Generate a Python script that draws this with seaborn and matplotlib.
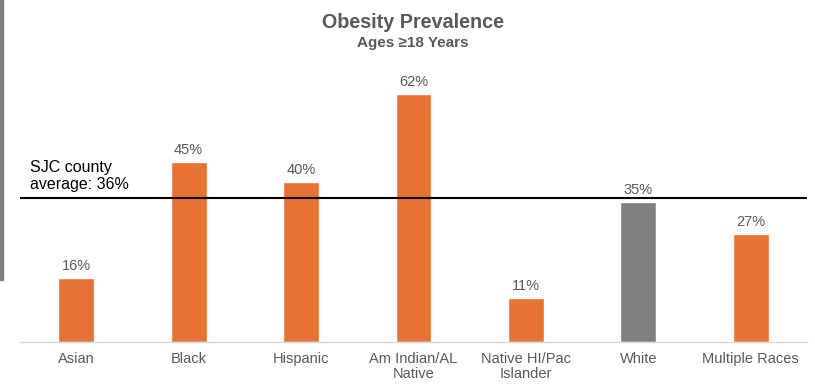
import matplotlib
matplotlib.use("Agg")
import matplotlib.pyplot as plt
from matplotlib.patches import Rectangle
import seaborn as sns
import pandas as pd

categories = ["Asian", "Black", "Hispanic", "Am Indian/AL\nNative",
              "Native HI/Pac\nIslander", "White", "Multiple Races"]
prevalence = [16, 45, 40, 62, 11, 35, 27]
county_average = 36

ORANGE = "#E87234"
GRAY = "#7F7F7F"
TEXT = "#595959"

sns.set_theme(style="white")
plt.rcParams["font.family"] = ["Liberation Sans", "DejaVu Sans"]

df = pd.DataFrame({"group": categories, "pct": prevalence})
palette = {c: (GRAY if c == "White" else ORANGE) for c in categories}

fig = plt.figure(figsize=(8.15, 3.85), dpi=100)
ax = fig.add_axes([20 / 815, 43 / 385, 787 / 815, 280 / 385])

sns.barplot(data=df, x="group", y="pct", hue="group", palette=palette,
            width=0.32, saturation=1, legend=False, ax=ax)

for i, v in enumerate(prevalence):
    ax.text(i, v + 1.2, f"{v}%", ha="center", va="bottom", fontsize=10.5, color=TEXT)

ax.axhline(county_average, color="black", lw=1.5, zorder=3)
ax.text(0.013, county_average + 1.5, "SJC county\naverage: 36%", transform=ax.get_yaxis_transform(),
        ha="left", va="bottom", fontsize=11.5, color="black", linespacing=1.2)

ax.set_xlim(-0.5, len(categories) - 0.5)
ax.set_ylim(0, 70)
ax.set_xlabel("")
ax.set_ylabel("")
ax.set_yticks([])
ax.tick_params(axis="x", length=0, labelsize=10.5, labelcolor=TEXT, pad=7)
for lbl in ax.get_xticklabels():
    lbl.set_linespacing(1.15)
for side in ["top", "right", "left"]:
    ax.spines[side].set_visible(False)
ax.spines["bottom"].set_color("#D9D9D9")
ax.spines["bottom"].set_linewidth(1)

fig.text(413 / 815, 1 - 22 / 385, "Obesity Prevalence", ha="center", va="center",
         fontsize=14.2, fontweight="bold", color=TEXT)
fig.text(413 / 815, 1 - 43 / 385, "Ages \u226518 Years", ha="center", va="center",
         fontsize=11, fontweight="bold", color=TEXT)

# thin gray rule down the left edge
fig.patches.append(Rectangle((0, 1 - 280 / 385), 3 / 815, 280 / 385,
                             transform=fig.transFigure, color=GRAY, zorder=5))

fig.savefig("out.png", dpi=100)
